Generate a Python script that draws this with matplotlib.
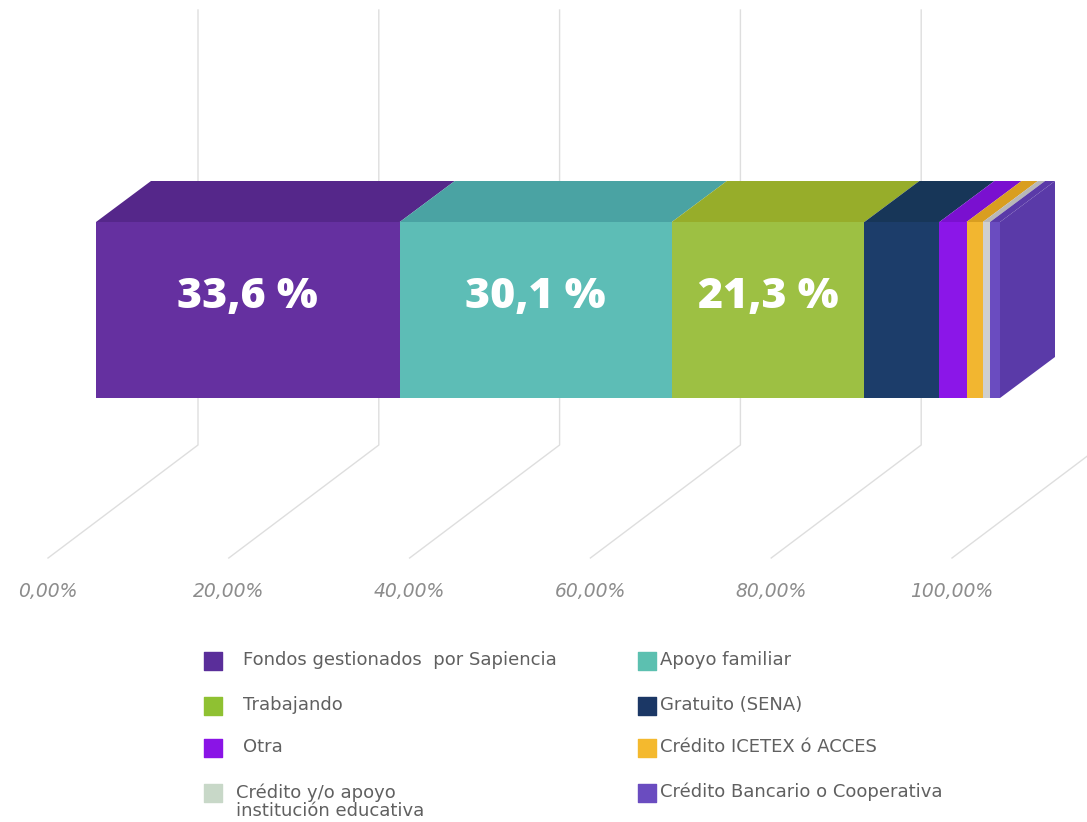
import numpy as np
import matplotlib as mpl
mpl.use("Agg")
import matplotlib.pyplot as plt
from matplotlib.transforms import Affine2D

# datos
categorias = ["Fondos gestionados  por Sapiencia", "Apoyo familiar", "Trabajando",
              "Gratuito (SENA)", "Otra", "Crédito ICETEX ó ACCES",
              "Crédito y/o apoyo\ninstitución educativa", "Crédito Bancario o Cooperativa"]
valores = [33.6, 30.1, 21.3, 8.3, 3.0, 1.8, 0.8, 1.1]
etiquetas = ["33,6 %", "30,1 %", "21,3 %", None, None, None, None, None]
ticks = [0, 20, 40, 60, 80, 100]
tick_labels = ["0,00%", "20,00%", "40,00%", "60,00%", "80,00%", "100,00%"]

frente = ["#6530a0", "#5dbdb6", "#9dc043", "#1c3d6a", "#8b16e8", "#f2b630", "#cfcfcf", "#6a4cc0"]
arriba = ["#55278a", "#4aa3a3", "#97ad2a", "#173658", "#7a10d0", "#d99e20", "#b8b8b8", "#5a3aa8"]
lado = "#5a3aa8"
legend_cols = ["#5a2e9a", "#5cc0b0", "#8fc132", "#1b3765", "#8a14e6", "#f4b92e", "#c8d8c8", "#6a4cc0"]

W, H = 1087, 822
fig = plt.figure(figsize=(W / 100, H / 100), dpi=100)
ax = fig.add_axes([0, 0, 1, 1])

px = 9.04           # pixels per percent on the front face
x0 = 96             # pixel of 0 % on the front face
ax.set_xlim(-x0 / px, (W - x0) / px)
ax.set_ylim(H, 0)
ax.axis("off")

y_top, y_bot = 222, 398
dx_pix, dy_pix = 55, 41
dx = dx_pix / px

# back wall + floor gridlines
back_off = (198 - x0) / px
front_off = (48 - x0) / px
for t in ticks:
    ax.plot([t + back_off, t + back_off, t + front_off], [10, 445, 558],
            color="#dedede", lw=1, zorder=0)

lefts = np.concatenate([[0], np.cumsum(valores)[:-1]])
total = sum(valores)

# front faces
ax.barh(y=(y_top + y_bot) / 2, width=valores, left=lefts, height=y_bot - y_top,
        color=frente, zorder=3, linewidth=0)

# top faces (sheared)
kx = dx / dy_pix
shear_top = Affine2D(np.array([[1, -kx, kx * y_top], [0, 1, 0], [0, 0, 1]]))
tops = ax.barh(y=y_top - dy_pix / 2, width=valores, left=lefts, height=dy_pix,
               color=arriba, zorder=2, linewidth=0)
for p in tops:
    p.set_transform(shear_top + ax.transData)

# right side face
ky = dy_pix / dx
shear_side = Affine2D(np.array([[1, 0, 0], [-ky, 1, ky * total], [0, 0, 1]]))
side = ax.barh(y=(y_top + y_bot) / 2, width=dx, left=total, height=y_bot - y_top,
               color=lado, zorder=2, linewidth=0)
for p in side:
    p.set_transform(shear_side + ax.transData)

# value labels
for l, v, lab in zip(lefts, valores, etiquetas):
    if lab:
        ax.text(l + v / 2, 297, lab, ha="center", va="center", color="white",
                fontsize=31, fontweight="heavy", family="Open Sans", zorder=5)

# tick labels
for t, lab in zip(ticks, tick_labels):
    ax.text(t + front_off, 591, lab, ha="center", va="center", color="#8c8c8c",
            fontsize=13.5, style="italic", family="DejaVu Sans", zorder=5)

# legend
rows = [661, 706, 748, 793]
col_sq = [213, 647]
col_tx = [243, 660]
for i, (cat, c) in enumerate(zip(categorias, legend_cols)):
    r, k = divmod(i, 2)
    ax.scatter((col_sq[k] - x0) / px, rows[r], marker="s", s=150, color=c, zorder=5)
    if "\n" in cat:
        ax.text((col_tx[k] - 7 - x0) / px, rows[r] - 10, cat, ha="left", va="top",
                color="#606060", fontsize=13, family="DejaVu Sans",
                linespacing=1.0, zorder=5)
    else:
        ax.text((col_tx[k] - x0) / px, rows[r] - 1, cat, ha="left", va="center",
                color="#606060", fontsize=13, family="DejaVu Sans", zorder=5)

fig.savefig("out.png", dpi=100)
